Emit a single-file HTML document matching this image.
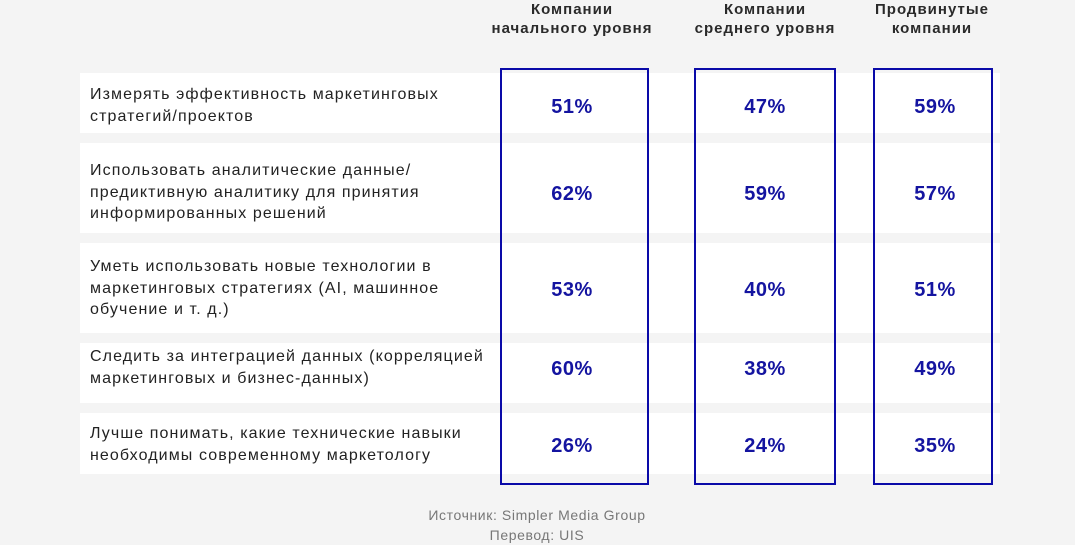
<!DOCTYPE html>
<html><head><meta charset="utf-8"><style>
body{margin:0;width:1075px;height:544px;background:#f4f4f4;font-family:"Liberation Sans",sans-serif;position:relative;overflow:hidden}
.h{position:absolute;top:0;text-align:center;font-size:15px;font-weight:bold;color:#2a2a2a;line-height:19px;width:220px;letter-spacing:1px}
.r{position:absolute;left:80px;width:920px;background:#fff}
.t{position:absolute;left:90px;font-size:16px;color:#222;line-height:21.5px;letter-spacing:1.1px;white-space:nowrap}
.b{position:absolute;top:68px;height:413px;border:2px solid #0a0aa8}
.p{position:absolute;width:140px;text-align:center;font-size:20px;font-weight:bold;color:#1414a0;letter-spacing:0.5px}
.s{position:absolute;left:337px;width:400px;text-align:center;font-size:14px;color:#777;line-height:20px;letter-spacing:0.6px;white-space:nowrap}
</style></head><body>
<div class="h" style="left:462px">Компании<br>начального уровня</div>
<div class="h" style="left:655px">Компании<br>среднего уровня</div>
<div class="h" style="left:822px">Продвинутые<br>компании</div>
<div class="r" style="top:73px;height:60px"></div>
<div class="r" style="top:143px;height:90px"></div>
<div class="r" style="top:243px;height:90px"></div>
<div class="r" style="top:343px;height:60px"></div>
<div class="r" style="top:413px;height:61px"></div>
<div class="t" style="top:84px">Измерять эффективность маркетинговых<br>стратегий/проектов</div>
<div class="t" style="top:160px">Использовать аналитические данные/<br>предиктивную аналитику для принятия<br>информированных решений</div>
<div class="t" style="top:256px">Уметь использовать новые технологии в<br>маркетинговых стратегиях (AI, машинное<br>обучение и т. д.)</div>
<div class="t" style="top:346px">Следить за интеграцией данных (корреляцией<br>маркетинговых и бизнес-данных)</div>
<div class="t" style="top:423px">Лучше понимать, какие технические навыки<br>необходимы современному маркетологу</div>
<div class="b" style="left:500px;width:145px"></div>
<div class="b" style="left:694px;width:138px"></div>
<div class="b" style="left:873px;width:116px"></div>
<div class="p" style="left:502px;top:96px">51%</div><div class="p" style="left:695px;top:96px">47%</div><div class="p" style="left:865px;top:96px">59%</div>
<div class="p" style="left:502px;top:183px">62%</div><div class="p" style="left:695px;top:183px">59%</div><div class="p" style="left:865px;top:183px">57%</div>
<div class="p" style="left:502px;top:279px">53%</div><div class="p" style="left:695px;top:279px">40%</div><div class="p" style="left:865px;top:279px">51%</div>
<div class="p" style="left:502px;top:358px">60%</div><div class="p" style="left:695px;top:358px">38%</div><div class="p" style="left:865px;top:358px">49%</div>
<div class="p" style="left:502px;top:435px">26%</div><div class="p" style="left:695px;top:435px">24%</div><div class="p" style="left:865px;top:435px">35%</div>
<div class="s" style="top:505px">Источник: Simpler Media Group</div>
<div class="s" style="top:525px">Перевод: UIS</div>
</body></html>
